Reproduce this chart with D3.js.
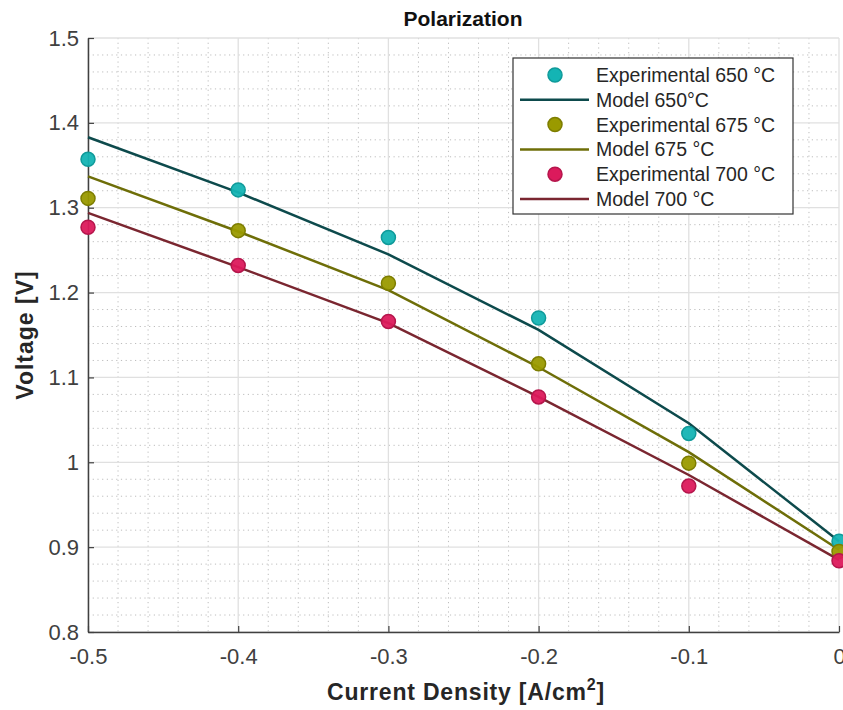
<!DOCTYPE html>
<html lang="en">
<head>
<meta charset="utf-8">
<title>Polarization</title>
<script src="https://d3js.org/d3.v7.min.js"></script>
<style>
  body { margin: 0; background: #fff; }
  svg { font-family: "Liberation Sans", Arial, Helvetica, sans-serif; display: block; }
</style>
</head>
<body>
<div id="chart"></div>
<script>
// data
const currentDensity = [-0.5, -0.4, -0.3, -0.2, -0.1, 0];

const exp650 = [1.357, 1.321, 1.265, 1.170, 1.034, 0.907];
const exp675 = [1.311, 1.273, 1.211, 1.116, 0.999, 0.895];
const exp700 = [1.277, 1.232, 1.166, 1.077, 0.972, 0.884];

const model650 = [1.383, 1.318, 1.245, 1.156, 1.046, 0.907];
const model675 = [1.337, 1.272, 1.203, 1.112, 1.012, 0.897];
const model700 = [1.294, 1.230, 1.164, 1.077, 0.985, 0.885];

const xTicks = [-0.5, -0.4, -0.3, -0.2, -0.1, 0];
const yTicks = [0.8, 0.9, 1, 1.1, 1.2, 1.3, 1.4, 1.5];
const xTickLabels = ["-0.5", "-0.4", "-0.3", "-0.2", "-0.1", "0"];
const yTickLabels = ["0.8", "0.9", "1", "1.1", "1.2", "1.3", "1.4", "1.5"];

const legendLabels = ["Experimental 650 °C", "Model 650°C", "Experimental 675 °C",
                      "Model 675 °C", "Experimental 700 °C", "Model 700 °C"];

// colours
const expFill = ["#14b4b4", "#9a9a00", "#dc1a5c"];
const expEdge = ["#0f9a9a", "#7d7d00", "#b5164c"];
const lineCol = ["#0d4a4c", "#6e6e08", "#7a2630"];

var margin = {top: 38, right: 4, bottom: 78, left: 88},
    W = 843, H = 710,
    width = W - margin.left - margin.right,
    height = H - margin.top - margin.bottom;

var svg = d3.select("#chart").append("svg")
    .attr("width", W)
    .attr("height", H);

var g = svg.append("g")
    .attr("transform", "translate(" + margin.left + "," + margin.top + ")");

var x = d3.scaleLinear().domain([-0.5, 0]).range([0, 751]);
var y = d3.scaleLinear().domain([0.8, 1.5]).range([height, 0]);

// minor grid (dotted)
var minorX = d3.range(-0.5, 0.0001, 0.02).filter(v => Math.abs(v * 10 - Math.round(v * 10)) > 1e-6);
var minorY = d3.range(0.8, 1.5001, 0.02).filter(v => Math.abs(v * 10 - Math.round(v * 10)) > 1e-6);

g.selectAll(".minor-x").data(minorX).enter().append("line")
    .attr("x1", d => x(d)).attr("x2", d => x(d))
    .attr("y1", 0).attr("y2", height)
    .attr("stroke", "#bdbdbd").attr("stroke-width", 1)
    .attr("stroke-dasharray", "1.2,3.5");

g.selectAll(".minor-y").data(minorY).enter().append("line")
    .attr("x1", 0).attr("x2", x(0))
    .attr("y1", d => y(d)).attr("y2", d => y(d))
    .attr("stroke", "#bdbdbd").attr("stroke-width", 1)
    .attr("stroke-dasharray", "1.2,3.5");

// major grid
g.selectAll(".major-x").data(xTicks).enter().append("line")
    .attr("x1", d => x(d)).attr("x2", d => x(d))
    .attr("y1", 0).attr("y2", height)
    .attr("stroke", "#e0e0e0").attr("stroke-width", 1.3);

g.selectAll(".major-y").data(yTicks).enter().append("line")
    .attr("x1", 0).attr("x2", x(0))
    .attr("y1", d => y(d)).attr("y2", d => y(d))
    .attr("stroke", "#e0e0e0").attr("stroke-width", 1.3);

// axes
var xAxis = g.append("g")
    .attr("transform", "translate(0," + height + ")")
    .call(d3.axisBottom(x).tickValues(xTicks).tickSizeInner(-6).tickSizeOuter(0)
      .tickPadding(16).tickFormat((d, i) => xTickLabels[i]));

var yAxis = g.append("g")
    .call(d3.axisLeft(y).tickValues(yTicks).tickSizeInner(-6).tickSizeOuter(0)
      .tickPadding(9).tickFormat((d, i) => yTickLabels[i]));

[xAxis, yAxis].forEach(a => {
  a.select(".domain").attr("stroke", "#404040").attr("stroke-width", 1.5);
  a.selectAll(".tick line").attr("stroke", "#404040").attr("stroke-width", 1.2);
  a.selectAll(".tick text").attr("fill", "#404040").style("font-size", "22px");
});

// model lines
var lineGen = d3.line().x(d => x(d[0])).y(d => y(d[1]));
[model650, model675, model700].forEach((m, i) => {
  g.append("path")
    .datum(currentDensity.map((c, j) => [c, m[j]]))
    .attr("d", lineGen)
    .attr("fill", "none")
    .attr("stroke", lineCol[i])
    .attr("stroke-width", 2.5);
});

// experimental points
[exp650, exp675, exp700].forEach((e, i) => {
  g.selectAll(".pt" + i).data(currentDensity.map((c, j) => [c, e[j]])).enter()
    .append("circle")
    .attr("cx", d => x(d[0]))
    .attr("cy", d => y(d[1]))
    .attr("r", 7)
    .attr("fill", expFill[i])
    .attr("fill-opacity", 0.95)
    .attr("stroke", expEdge[i])
    .attr("stroke-width", 1.5);
});

// title
svg.append("text")
    .attr("x", 463).attr("y", 26)
    .attr("text-anchor", "middle")
    .style("font-size", "21px").style("font-weight", "bold")
    .attr("fill", "#111")
    .text("Polarization");

// x label
var xl = svg.append("text")
    .attr("x", 466).attr("y", 700)
    .attr("text-anchor", "middle")
    .style("font-size", "23px").style("font-weight", "bold")
    .style("letter-spacing", "0.8px")
    .attr("fill", "#262626");
xl.append("tspan").text("Current Density [A/cm");
xl.append("tspan").attr("dy", -10).style("font-size", "16px").text("2");
xl.append("tspan").attr("dy", 10).text("]");

// y label
svg.append("text")
    .attr("transform", "translate(33," + (margin.top + height / 2) + ") rotate(-90)")
    .attr("text-anchor", "middle")
    .style("font-size", "23px").style("font-weight", "bold")
    .style("letter-spacing", "1px")
    .attr("fill", "#262626")
    .text("Voltage [V]");

// legend
var lg = svg.append("g").attr("transform", "translate(513,58)");
lg.append("rect")
    .attr("width", 280).attr("height", 156)
    .attr("fill", "#fff").attr("stroke", "#333").attr("stroke-width", 1.2);

legendLabels.forEach((lab, i) => {
  var cy = 17 + i * 24.8;
  var k = Math.floor(i / 2);
  if (i % 2 === 0) {
    lg.append("circle").attr("cx", 42).attr("cy", cy).attr("r", 7)
      .attr("fill", expFill[k]).attr("stroke", expEdge[k]).attr("stroke-width", 1.5);
  } else {
    lg.append("line").attr("x1", 7).attr("x2", 76).attr("y1", cy).attr("y2", cy)
      .attr("stroke", lineCol[k]).attr("stroke-width", 2.5);
  }
  lg.append("text").attr("x", 83).attr("y", cy + 7)
    .style("font-size", "19.5px").attr("fill", "#262626").text(lab);
});
</script>
</body>
</html>
